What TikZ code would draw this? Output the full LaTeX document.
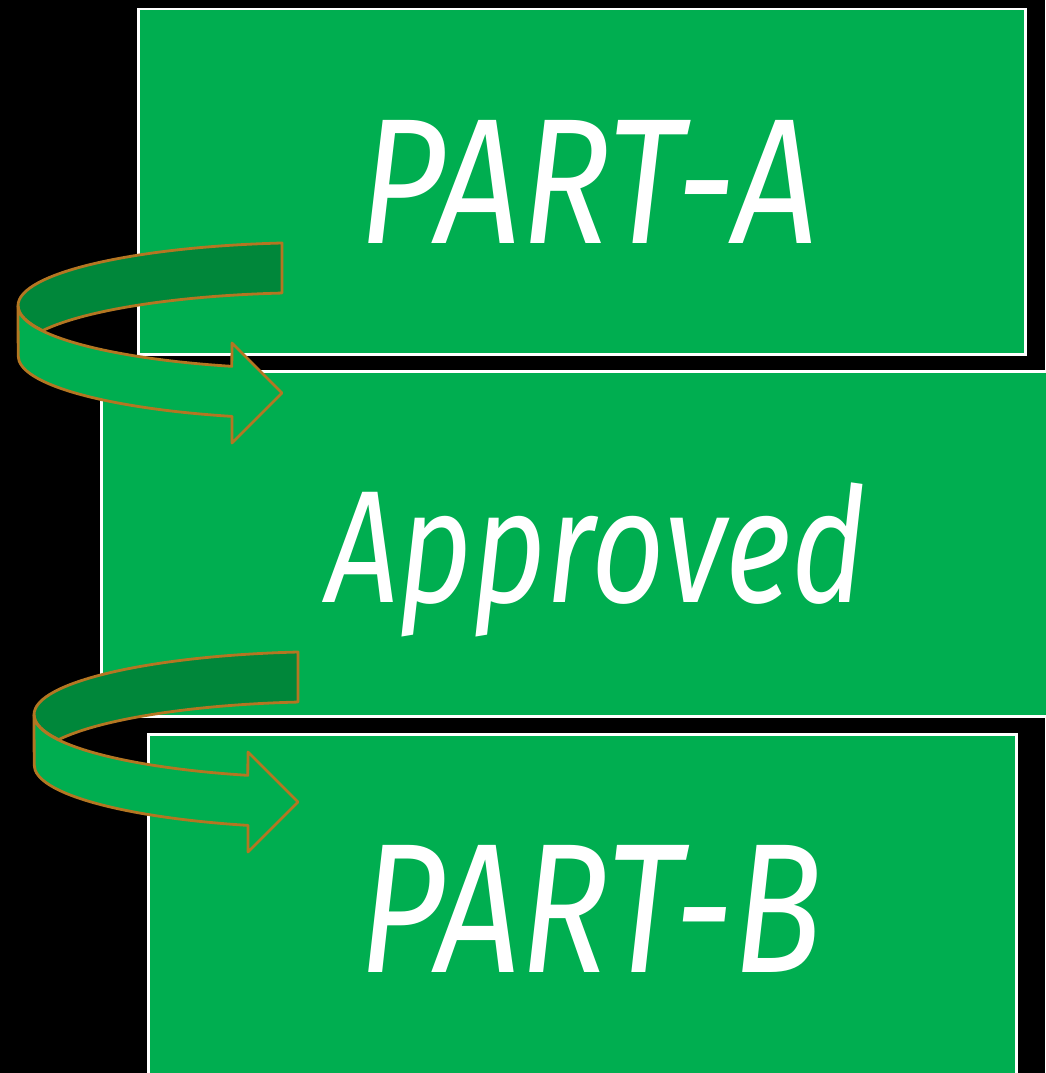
\documentclass[tikz,border=0pt]{standalone}
\usepackage{fontspec}
\setmainfont{Fira Sans}
\usepackage{graphicx}
\definecolor{boxgreen}{RGB}{0,174,80}
\definecolor{backgreen}{RGB}{0,135,58}
\definecolor{rimbrown}{RGB}{180,118,34}
\tikzset{
  panel/.style={fill=boxgreen, draw=white, line width=2.5pt},
  label/.style={text=white, inner sep=0pt, font=\itshape},
  rimback/.style={fill=backgreen, draw=rimbrown, line width=2.8pt, line join=round},
  rimfront/.style={fill=boxgreen, draw=rimbrown, line width=2.8pt, line join=round},
}
\newcommand{\turnarrow}[2]{%
  \begin{scope}[shift={(#1,#2)}]
    % back (dark) half of the ribbon
    \path[rimback] (282,243) arc[start angle=263.1, end angle=180, x radius=300, y radius=63]
      arc[start angle=180, end angle=156.6, x radius=300, y radius=63]
      arc[start angle=203.4, end angle=263.1, x radius=300, y radius=63] -- cycle;
    % front half with arrow head
    \path[rimfront] (18,306) arc[start angle=180, end angle=106.7, x radius=300, y radius=63]
      -- (232,343) -- (282,393) -- (232,443) -- (232,416.4)
      arc[start angle=106.7, end angle=180, x radius=300, y radius=63] -- cycle;
  \end{scope}}
\begin{document}
\begin{tikzpicture}[x=1pt, y=-1pt]
  \fill[black] (0,0) rectangle (1045,1073);
  \useasboundingbox (0,0) rectangle (1045,1073);
  \node[panel, minimum width=887pt, minimum height=345pt, anchor=north west] (boxA) at (137,8) {};
  \node[panel, minimum width=960pt, minimum height=345pt, anchor=north west] (boxM) at (100,370) {};
  \node[panel, minimum width=868pt, minimum height=360pt, anchor=north west] (boxB) at (147,733) {};
  \node[label] (tA) at (589,182) {\resizebox{458pt}{123pt}{PART-A}};
  \node[label] (tM) at (596,560) {\resizebox*{539pt}{154pt}{Approved}};
  \node[label] (tB) at (591,909) {\resizebox{462pt}{127pt}{PART-B}};
  \turnarrow{0}{0}
  \turnarrow{16}{409}
\end{tikzpicture}
\end{document}
